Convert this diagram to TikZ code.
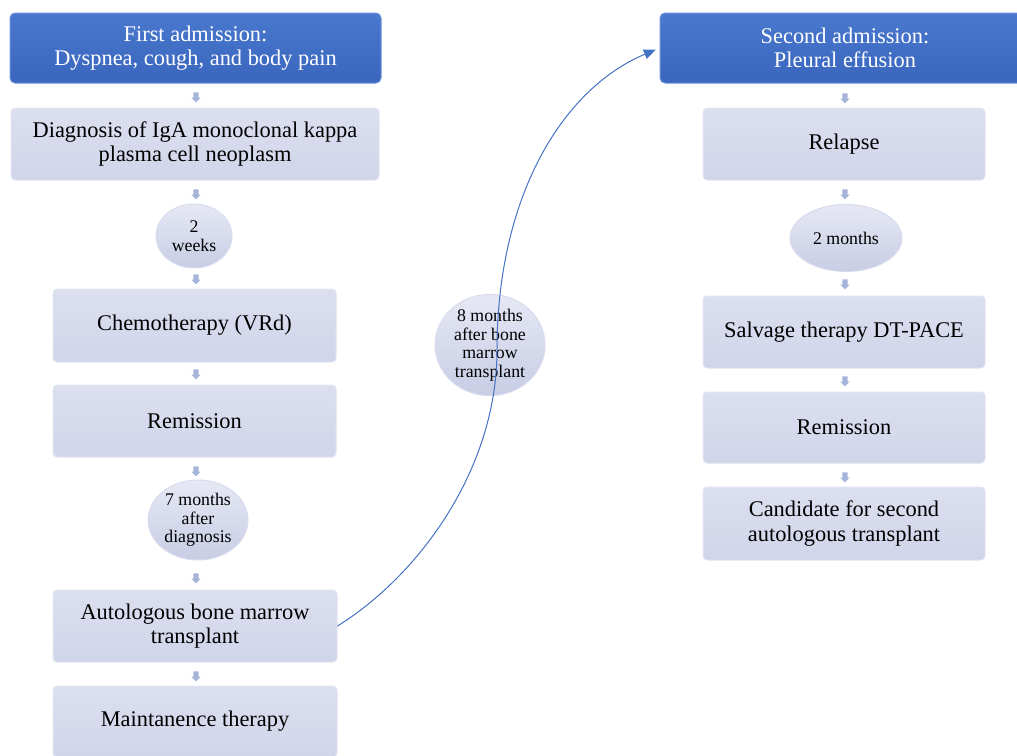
\documentclass[tikz,border=0pt]{standalone}
\usepackage{fontspec}
\setmainfont{Liberation Serif}
\usetikzlibrary{shapes.geometric,shapes.arrows,arrows.meta}
\definecolor{hdrTop}{HTML}{4A78CE}
\definecolor{hdrBot}{HTML}{3A66BE}
\definecolor{hdrEdge}{HTML}{6E92D8}
\definecolor{boxTop}{HTML}{DCDFEF}
\definecolor{boxBot}{HTML}{D1D5EA}
\definecolor{boxEdge}{HTML}{E2E5F2}
\definecolor{bubTop}{HTML}{E6E8F4}
\definecolor{bubBot}{HTML}{C8CDE5}
\definecolor{bubEdge}{HTML}{D9DCEE}
\definecolor{arrowFill}{HTML}{A7B4DA}
\definecolor{curveCol}{HTML}{4472C4}
\newcommand\mainfs{\fontsize{22.4}{24.5}\selectfont}
\newcommand\bubfs{\fontsize{17.8}{18.5}\selectfont}
\tikzset{
  header/.style={draw=hdrEdge, line width=1pt, top color=hdrTop, bottom color=hdrBot,
    rounded corners=5pt, text=white, font=\mainfs, align=center, inner sep=0pt},
  stepbox/.style={draw=boxEdge, line width=1pt, top color=boxTop, bottom color=boxBot,
    rounded corners=4pt, text=black, font=\mainfs, align=center, inner sep=0pt},
  bubble/.style={ellipse, draw=bubEdge, line width=1pt, top color=bubTop, bottom color=bubBot,
    font=\bubfs, align=center, inner sep=0pt},
  dnarrow/.style={single arrow, shape border rotate=270, fill=arrowFill, draw=none,
    minimum height=10pt, minimum width=9pt, single arrow head extend=2pt, inner sep=2.5pt},
  link/.style={draw=curveCol, line width=1pt, -{Triangle[length=12pt,width=10pt]}}
}
\begin{document}
\begin{tikzpicture}[x=1pt,y=-1pt]
\useasboundingbox (0,0) rectangle (1017,755);
% left column
\node[header, minimum width=371, minimum height=70] (h1) at (195.5,48) {First admission:\\Dyspnea, cough, and body pain};
\node[dnarrow] (a1) at (196,96) {};
\node[stepbox, minimum width=368, minimum height=72] (diag) at (195,144) {Diagnosis of IgA monoclonal kappa\\plasma cell neoplasm};
\node[dnarrow] (a2) at (196,193) {};
\node[bubble, minimum width=76, minimum height=64] (e1) at (194,236) {2\\weeks};
\node[dnarrow] (a3) at (196,278) {};
\node[stepbox, minimum width=283, minimum height=73] (chemo) at (194.5,325.5) {Chemotherapy (VRd)};
\node[dnarrow] (a4) at (196,373) {};
\node[stepbox, minimum width=283, minimum height=72] (rem1) at (194.5,421) {Remission};
\node[dnarrow] (a5) at (196,470) {};
\node[bubble, minimum width=100, minimum height=80] (e2) at (198,520) {7 months\\after\\diagnosis};
\node[dnarrow] (a6) at (196,577) {};
\node[stepbox, minimum width=284, minimum height=72] (auto) at (195,626) {Autologous bone marrow\\transplant};
\node[dnarrow] (a7) at (196,675) {};
\node[stepbox, minimum width=284, minimum height=71] (maint) at (195,721.5) {Maintanence therapy};
% middle
\node[bubble, minimum width=110, minimum height=100] (e3) at (490,345) {8 months\\after bone\\marrow\\transplant};
% right column
\node[header, minimum width=370, minimum height=70] (h2) at (845,48) {Second admission:\\Pleural effusion};
\node[dnarrow] (b1) at (845,97) {};
\node[stepbox, minimum width=282, minimum height=72] (rel) at (844,144) {Relapse};
\node[dnarrow] (b2) at (845,193) {};
\node[bubble, minimum width=112, minimum height=67] (e4) at (846,238) {2 months};
\node[dnarrow] (b3) at (845,283) {};
\node[stepbox, minimum width=282, minimum height=72] (salv) at (844,332) {Salvage therapy DT-PACE};
\node[dnarrow] (b4) at (845,380) {};
\node[stepbox, minimum width=282, minimum height=71] (rem2) at (844,427.5) {Remission};
\node[dnarrow] (b5) at (845,476) {};
\node[stepbox, minimum width=282, minimum height=73] (cand) at (844,523.5) {Candidate for second\\autologous transplant};
% curved connector
\coordinate (mid) at (497,350);
\draw[link, shorten >=4pt] (auto.east) .. controls (418,576) and (497,470) .. (mid)
  .. controls (497,200) and (560,90) .. (h2.west);
\end{tikzpicture}
\end{document}
